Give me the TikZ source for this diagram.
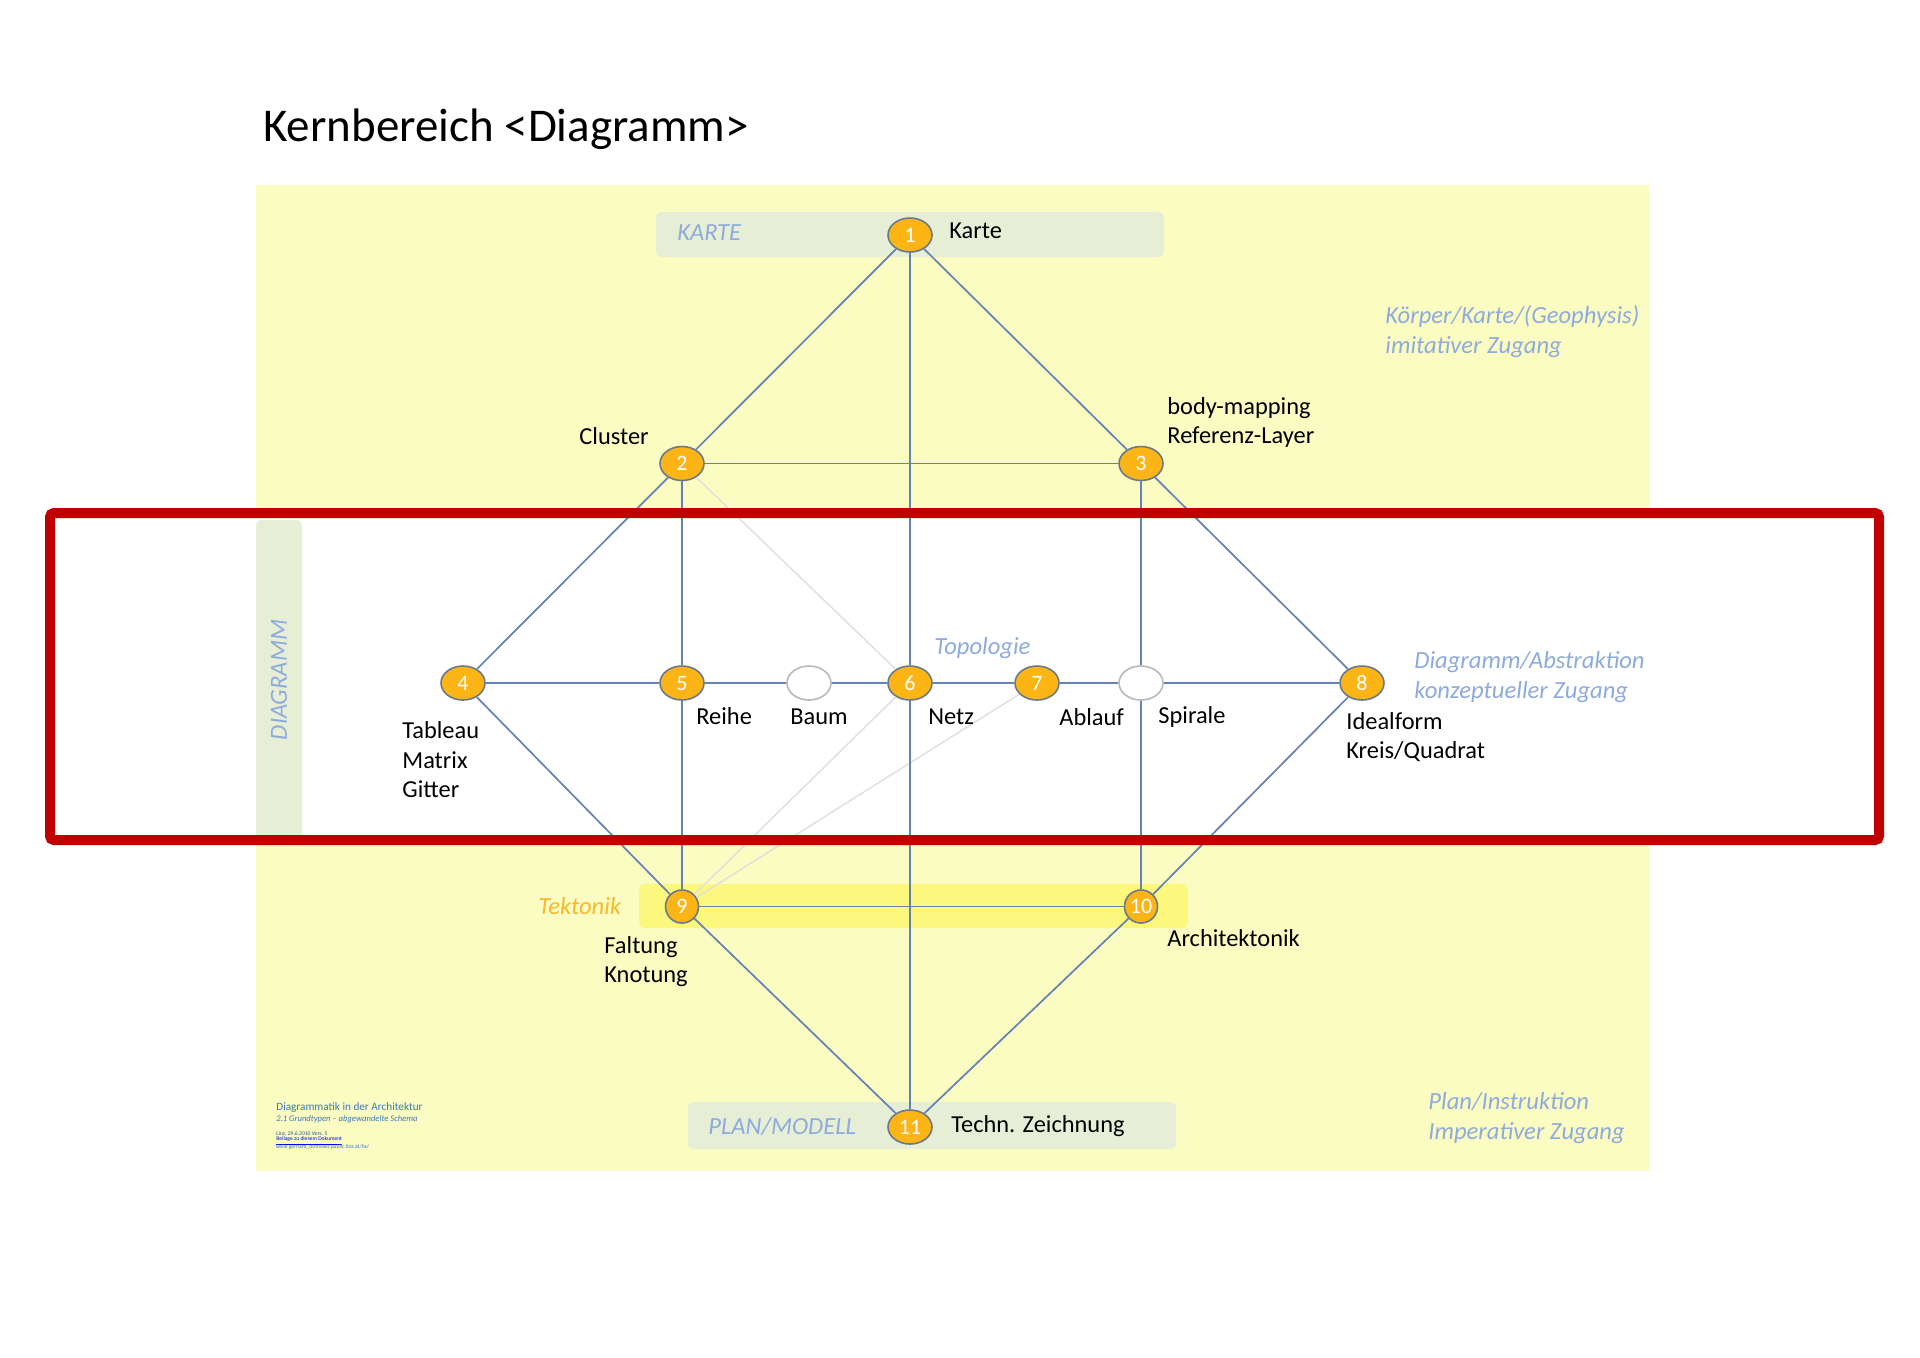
\documentclass[tikz,border=0pt]{standalone}
\usepackage{fontspec}
\setmainfont{Carlito}
\usetikzlibrary{shapes.geometric}
\definecolor{bgyellow}{HTML}{FAFCC2}
\definecolor{boxgreen}{HTML}{E6EED6}
\definecolor{tekyellow}{HTML}{FCF87E}
\definecolor{edgeblue}{HTML}{6482B4}
\definecolor{nodeorange}{HTML}{FDB515}
\definecolor{nodeborder}{HTML}{6B7A8A}
\definecolor{labelblue}{HTML}{8EABDD}
\definecolor{tekorange}{HTML}{F8B92A}
\definecolor{redframe}{HTML}{C00000}
\definecolor{footblue}{HTML}{3C78BE}
\begin{document}
\begin{tikzpicture}[x=0.5pt,y=-0.5pt,
 num/.style={ellipse,draw=nodeborder,line width=0.8pt,fill=nodeorange,minimum width=22pt,minimum height=17pt,inner sep=0pt,text=white,font=\fontsize{11}{11}\selectfont},
 numc/.style={circle,draw=nodeborder,line width=0.8pt,fill=nodeorange,minimum size=16.5pt,inner sep=0pt,text=white,font=\fontsize{11}{11}\selectfont},
 emptynode/.style={ellipse,draw=gray!55,line width=0.8pt,fill=white,minimum width=22pt,minimum height=17pt,inner sep=0pt},
 edge/.style={draw=edgeblue,line width=0.85pt},
 faint/.style={draw=gray!25,line width=0.7pt},
 lab/.style={font=\fontsize{12.2}{14.75}\selectfont,text=black,inner sep=0pt,align=left,anchor=west},
 blab/.style={font=\fontsize{12.3}{15}\selectfont\itshape,text=labelblue,inner sep=0pt,align=left,anchor=west},
 band/.style={fill=boxgreen,rounded corners=3pt}
]
\useasboundingbox (0,0) rectangle (1920,1357);
\fill[white] (0,0) rectangle (1920,1357);
% background
\fill[bgyellow] (256,185) rectangle (1649,1171);
\fill[white] (45,508) rectangle (1884,845);
% bands
\fill[band] (656,212) rectangle (1164,257);
\fill[band] (688,1102) rectangle (1176,1149);
\fill[band] (256,520) rectangle (302,838);
\fill[tekyellow,rounded corners=3pt] (639,884) rectangle (1188,928);

% node positions
\coordinate (p1) at (910,235);
\coordinate (p2) at (682,463.5);
\coordinate (p3) at (1141,463.5);
\coordinate (p4) at (463,683);
\coordinate (p5) at (682,683);
\coordinate (pb) at (809,683);
\coordinate (p6) at (910,683);
\coordinate (p7) at (1037,683);
\coordinate (ps) at (1141,683);
\coordinate (p8) at (1362,683);
\coordinate (p9) at (682,906.5);
\coordinate (p10) at (1141,906.5);
\coordinate (p11) at (910,1127);

% nodes
\node[num] (n1) at (p1) {1};
\node[num] (n2) at (p2) {2};
\node[num] (n3) at (p3) {3};
\node[num] (n4) at (p4) {4};
\node[num] (n5) at (p5) {5};
\node[emptynode] (nb) at (pb) {};
\node[num] (n6) at (p6) {6};
\node[num] (n7) at (p7) {7};
\node[emptynode] (ns) at (ps) {};
\node[num] (n8) at (p8) {8};
\node[numc] (n9) at (p9) {9};
\node[numc] (n10) at (p10) {10};
\node[num] (n11) at (p11) {11};

% edges
\draw[faint] (n2) -- (n6);
\draw[faint] (n9) -- (n6);
\draw[faint] (n9) -- (n7);
\draw[edge] (n1) -- (n2);
\draw[edge] (n1) -- (n3);
\draw[edge] (n1) -- (n6);
\draw[edge] (n6) -- (n11);
\draw[edge] (n2) -- (n3);
\draw[edge] (n2) -- (n4);
\draw[edge] (n2) -- (n5);
\draw[edge] (n3) -- (n8);
\draw[edge] (n3) -- (ns);
\draw[edge] (ns) -- (n10);
\draw[edge] (n4) -- (n5);
\draw[edge] (n5) -- (nb);
\draw[edge] (nb) -- (n6);
\draw[edge] (n6) -- (n7);
\draw[edge] (n7) -- (ns);
\draw[edge] (ns) -- (n8);
\draw[edge] (n4) -- (n9);
\draw[edge] (n5) -- (n9);
\draw[edge] (n8) -- (n10);
\draw[edge] (n9) -- (n10);
\draw[edge] (n9) -- (n11);
\draw[edge] (n10) -- (n11);

% red frame
\draw[redframe,line width=5pt,rounded corners=2pt] (50,513) rectangle (1879,840);

% title
\node[lab,font=\fontsize{23.5}{23.5}\selectfont] (title) at (263,129) {Kernbereich <Diagramm>};

% labels
\node[blab] (tkarte) at (677,233) {KARTE};
\node[lab] (lkarte) at (949,231) {Karte};
\node[blab] (tkoerper) at (1385,332) {Körper/Karte/(Geophysis)\\imitativer Zugang};
\node[lab] (lcluster) at (579,436) {Cluster};
\node[lab] (lbody) at (1167,422.5) {body-mapping\\Referenz-Layer};
\node[blab,rotate=90,anchor=center] (tdiag) at (279,680) {DIAGRAMM};
\node[blab] (ttopo) at (934,648) {Topologie};
\node[blab] (tabstr) at (1414,677) {Diagramm/Abstraktion\\konzeptueller Zugang};
\node[lab] (ltab) at (402,760) {Tableau\\Matrix\\Gitter};
\node[lab] (lreihe) at (696,716) {Reihe};
\node[lab] (lbaum) at (790,717) {Baum};
\node[lab] (lnetz) at (928,717) {Netz};
\node[lab] (lablauf) at (1059,717) {Ablauf};
\node[lab] (lspir) at (1158,717) {Spirale};
\node[lab] (lideal) at (1346,737) {Idealform\\Kreis/Quadrat};
\node[blab,text=tekorange] (ttek) at (538,906) {Tektonik};
\node[lab] (lfalt) at (604,961.5) {Faltung\\Knotung};
\node[lab] (larch) at (1167,938) {Architektonik};
\node[blab] (tplan) at (708,1127) {PLAN/MODELL};
\node[lab] (ltech) at (951,1126) {Techn. Zeichnung};
\node[blab] (tinstr) at (1428,1118) {Plan/Instruktion\\Imperativer Zugang};

% footer
\node[lab,text=footblue,font=\fontsize{5.6}{6}\selectfont] (f1) at (276,1108) {Diagrammatik in der Architektur};
\node[lab,text=footblue,font=\fontsize{4.3}{5}\selectfont\itshape] (f2) at (276,1119.5) {2.1 Grundtypen -- abgewandelte Schema};
\node[lab,text=footblue!70!black,font=\fontsize{2.8}{3}\selectfont] (f3) at (276,1134) {Linz, 29.6.2010 Vers. 5};
\node[lab,text=blue,font=\fontsize{2.8}{3}\selectfont] (f4) at (276,1141) {\underline{Beilage zu diesem Dokument}};
\node[lab,text=footblue,font=\fontsize{2.8}{3}\selectfont] (f5) at (276,1147) {Beile gerhard\_dirmoser.public.linz.at/hs/};
\end{tikzpicture}
\end{document}
